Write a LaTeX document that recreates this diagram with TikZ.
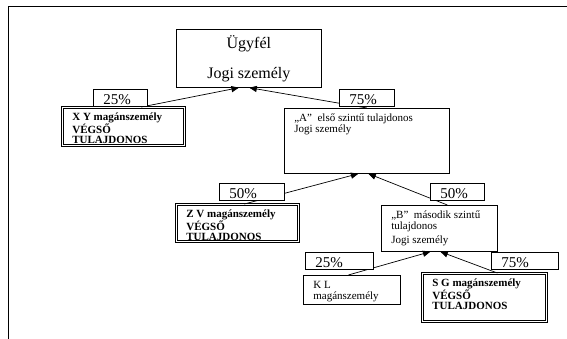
\documentclass[tikz,border=0pt]{standalone}
\usepackage{fontspec}
\setmainfont{Liberation Serif}
\usepackage{tikz}
\usetikzlibrary{arrows}
\tikzstyle{entity}=[draw=black,fill=white,anchor=north west,inner xsep=10pt,inner ysep=6pt,font=\fontsize{11}{10.5}\selectfont]
\tikzstyle{owner}=[entity,double,double distance=1.3pt,line width=0.7pt,font=\fontsize{11}{10}\selectfont\bfseries]
\tikzstyle{share}=[draw=black,fill=white,anchor=north west,inner xsep=10pt,inner ysep=2pt,text height=13pt,text depth=0pt,align=left,font=\fontsize{15}{15}\selectfont]
\tikzstyle{arrow}=[->,>=triangle 45]
\newcommand{\boxtext}[3]{\parbox[c][#2][t]{#1}{#3}}
\tikzset{every picture/.style={
    line width=0.7pt
  }
}

\begin{document}
\begin{tikzpicture}[x=1pt,y=-1pt]
      \useasboundingbox (0,0) rectangle (567,339);
      \draw[line width=0.9pt] (8,339) -- (8,6) -- (567,6);
      \node[draw=black,fill=white,anchor=north west,minimum width=145pt,minimum height=58pt,align=center,font=\fontsize{16}{19}\selectfont] at (176,29) (ugyfel) {Ügyfél\\[11pt]Jogi személy};
      \node[owner] at (62,107) (xy) {\boxtext{102pt}{26pt}{X Y magánszemély\\VÉGSŐ\\TULAJDONOS}};
      \node[entity] at (284,108) (a) {\boxtext{145pt}{53pt}{„A”\ \ első szintű tulajdonos\\Jogi személy}};
      \node[owner] at (176,204) (zv) {\boxtext{102pt}{25pt}{Z V magánszemély\\VÉGSŐ\\TULAJDONOS}};
      \node[entity] at (381,205) (b) {\boxtext{96pt}{34pt}{„B”\ \ második szintű\\tulajdonos\\[4pt]Jogi személy}};
      \node[entity] at (303,275) (kl) {\boxtext{77pt}{17pt}{K L\\magánszemély}};
      \node[owner] at (422,273) (sg) {\boxtext{104pt}{36pt}{S G magánszemély\\VÉGSŐ\\TULAJDONOS}};
      % ownership arrows
      \draw[arrow] ([xshift=18pt]xy.north) -- ([xshift=-10pt]ugyfel.south);
      \draw[arrow] (a.north) -- ([xshift=0.5pt]ugyfel.south);
      \draw[arrow] ([xshift=7pt]zv.north) -- ([xshift=-8.5pt]a.south);
      \draw[arrow] ([xshift=8pt]b.north) -- ([xshift=1.5pt]a.south);
      \draw[arrow] ([xshift=-3.5pt]kl.north) -- ([xshift=-9pt]b.south);
      \draw[arrow] ([xshift=13pt]sg.north) -- ([xshift=1pt]b.south);
      % shares
      \node[share,text width=34pt] at (93,89) (p25a) {25\%};
      \node[share,text width=35pt] at (339,89) (p75a) {75\%};
      \node[share,text width=45pt] at (219,183) (p50a) {50\%};
      \node[share,text width=34pt] at (430,183) (p50b) {50\%};
      \node[share,text width=48pt] at (305,252) (p25b) {25\%};
      \node[share,text width=47pt] at (491,252) (p75b) {75\%};
\end{tikzpicture}
\end{document}
